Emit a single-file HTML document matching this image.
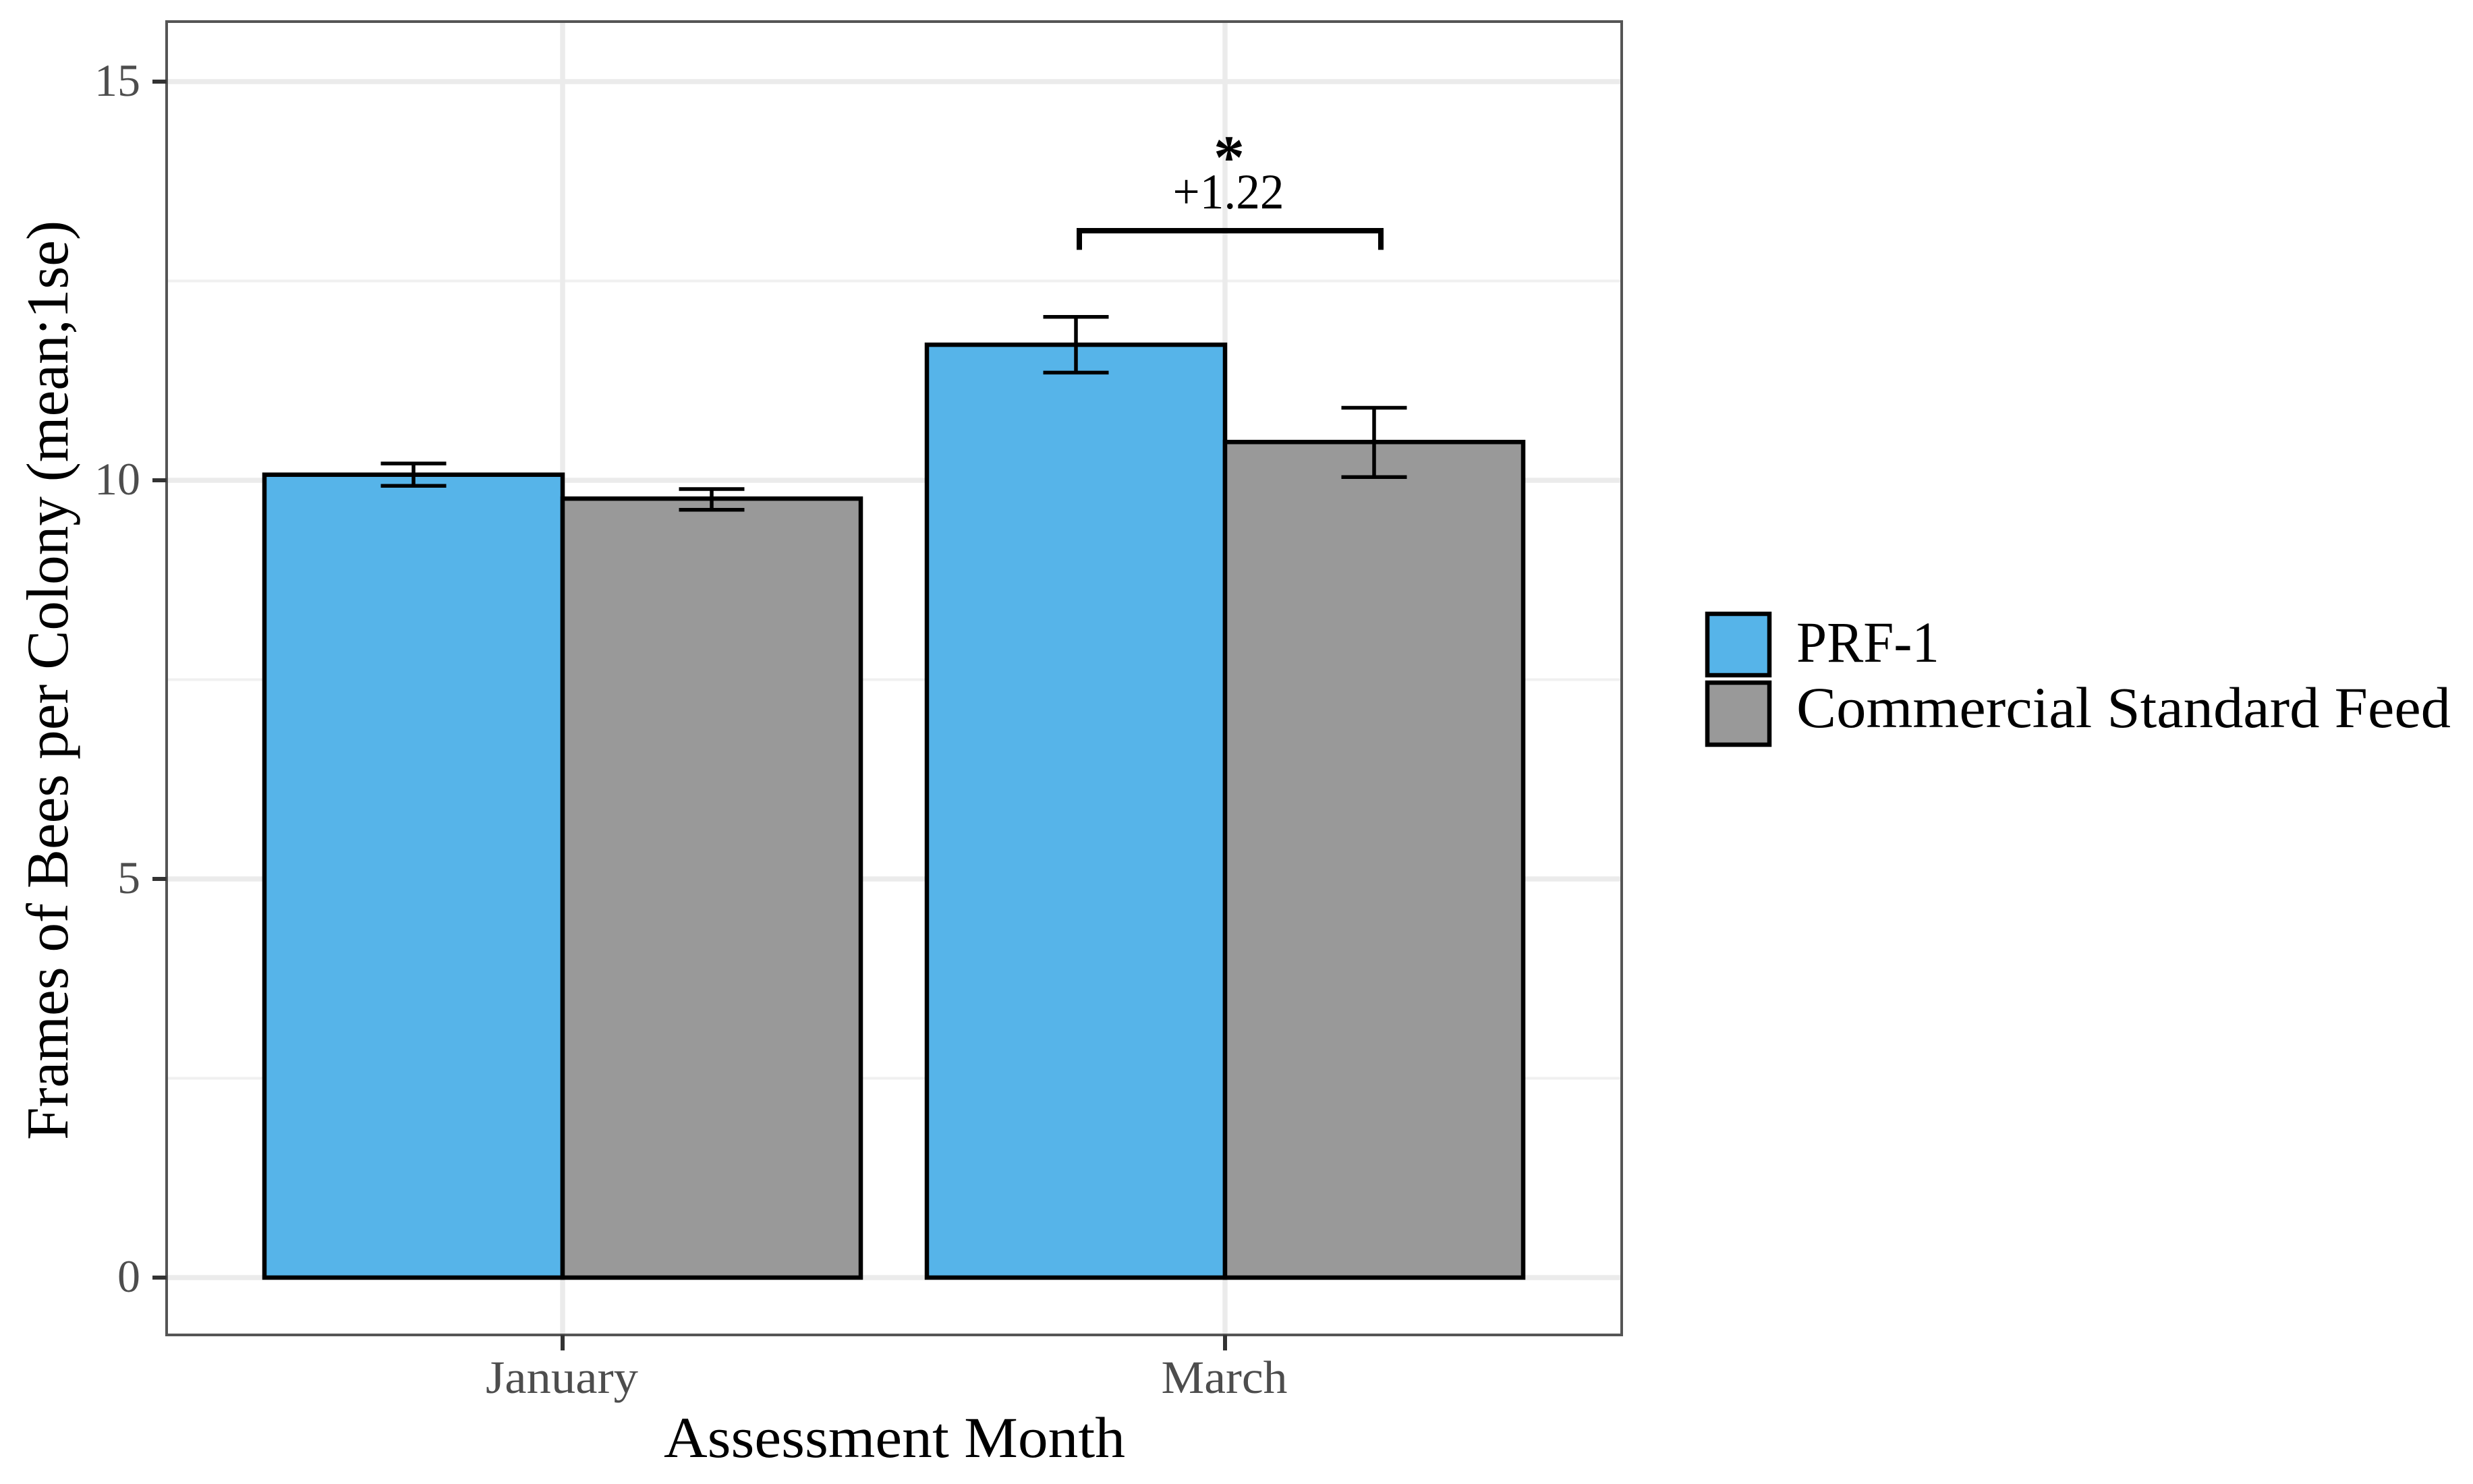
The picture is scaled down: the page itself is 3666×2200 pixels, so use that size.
<!DOCTYPE html>
<html>
<head>
<meta charset="utf-8">
<title>Frames of Bees per Colony</title>
<style>
html,body{margin:0;padding:0;background:#fff;width:3666px;height:2200px;overflow:hidden}
svg{display:block}
text{font-family:"Liberation Serif",serif}
</style>
</head>
<body>
<svg id="chart" width="3666" height="2200" viewBox="0 0 3666 2200" xmlns="http://www.w3.org/2000/svg">
  <rect x="0" y="0" width="3666" height="2200" fill="#fff"/>
  <g id="grid"></g>
  <g id="bars"></g>
  <g id="errors"></g>
  <rect x="247" y="32" width="2157" height="1947" fill="none" stroke="#555" stroke-width="4"/>
  <g id="axes"></g>
  <text transform="translate(100,1690) rotate(-90)" font-size="88" fill="#000" textLength="1363" lengthAdjust="spacingAndGlyphs">Frames of Bees per Colony (mean;1se)</text>
  <text x="984" y="2160" font-size="86" fill="#000" textLength="684" lengthAdjust="spacingAndGlyphs">Assessment Month</text>
  <g id="annotation"></g>
  <g>
    <rect x="2531" y="910" width="92" height="91" fill="#56B4E9" stroke="#000" stroke-width="6.5"/>
    <rect x="2531" y="1012" width="92" height="92" fill="#999999" stroke="#000" stroke-width="6.5"/>
    <text x="2663" y="981" font-size="86" fill="#000" textLength="212" lengthAdjust="spacingAndGlyphs">PRF-1</text>
    <text x="2663" y="1078" font-size="86" fill="#000" textLength="970" lengthAdjust="spacingAndGlyphs">Commercial Standard Feed</text>
  </g>
</svg>
<script>
const categories = ['January', 'March'];
const prfMeans = [10.07, 11.70];
const prfUpper = [10.21, 12.05];
const prfLower = [9.93, 11.35];
const feedMeans = [9.77, 10.48];
const feedUpper = [9.89, 10.91];
const feedLower = [9.63, 10.04];
const yMajorTicks = [0, 5, 10, 15];
const yMinorTicks = [2.5, 7.5, 12.5];
const annotationDelta = '+1.22';
const annotationStar = '*';
const bracketTop = 13.13;
const bracketBottom = 12.89;

const NS = 'http://www.w3.org/2000/svg';
const BLUE = '#56B4E9', GRAY = '#999999';
const xAxis = i => 834 + 982 * i;
const yAxis = v => 1894 - 118.2 * v;
const BAR_W = 442;
const CAP = 48.5;

function mk(tag, attrs, parent, txt) {
  const e = document.createElementNS(NS, tag);
  for (const k in attrs) e.setAttribute(k, attrs[k]);
  if (txt !== undefined) e.textContent = txt;
  parent.appendChild(e);
  return e;
}

const grid = document.getElementById('grid');
const barsG = document.getElementById('bars');
const errG = document.getElementById('errors');
const axes = document.getElementById('axes');
const ann = document.getElementById('annotation');

yMinorTicks.forEach(v => {
  const l = mk('line', {x1: 247, x2: 2404, y1: yAxis(v), y2: yAxis(v), stroke: '#f0f0f0', 'stroke-width': 4}, grid);
  
  
});
yMajorTicks.forEach(v => {
  const l = mk('line', {x1: 247, x2: 2404, y1: yAxis(v), y2: yAxis(v), stroke: '#ebebeb', 'stroke-width': 7.5}, grid);
  
  
  const t = mk('line', {x1: 226, x2: 247, y1: yAxis(v), y2: yAxis(v), stroke: '#333', 'stroke-width': 6}, axes);
  
  
  const lab = mk('text', {x: 208, y: yAxis(v) + 21, 'text-anchor': 'end', 'font-size': 68, fill: '#4d4d4d'}, axes, String(v));
  
  
});
const labelWidths = {January: 226, March: 187};
categories.forEach((c, i) => {
  const x = xAxis(i);
  const g = mk('line', {x1: x, x2: x, y1: 32, y2: 1979, stroke: '#ebebeb', 'stroke-width': 7.5}, grid);
  
  
  const t = mk('line', {x1: x, x2: x, y1: 1979, y2: 2002, stroke: '#333', 'stroke-width': 6}, axes);
  
  
  const lab = mk('text', {x: x - 1, y: 2065, 'text-anchor': 'middle', 'font-size': 69, fill: '#4d4d4d', textLength: labelWidths[c], lengthAdjust: 'spacingAndGlyphs'}, axes, c);
  
  
});

function drawSeries(means, fill, side, name) {
  means.forEach((m, i) => {
    const x0 = side < 0 ? xAxis(i) - BAR_W : xAxis(i);
    const r = mk('rect', {x: x0, y: yAxis(m), width: BAR_W, height: yAxis(0) - yAxis(m), fill: fill, stroke: '#000', 'stroke-width': 6.5}, barsG);
    
    
  });
}
function drawErrors(upper, lower, side, name) {
  upper.forEach((u, i) => {
    const cx = xAxis(i) + side * BAR_W / 2;
    const yu = yAxis(u), yl = yAxis(lower[i]);
    const p = mk('path', {d: `M${cx - CAP} ${yu}H${cx + CAP}M${cx} ${yu}V${yl}M${cx - CAP} ${yl}H${cx + CAP}`, fill: 'none', stroke: '#000', 'stroke-width': 5.5}, errG);
    
    
  });
}
drawSeries(prfMeans, BLUE, -1, 'prf-1');
drawSeries(feedMeans, GRAY, 1, 'commercial-standard-feed');
drawErrors(prfUpper, prfLower, -1, 'prf-1');
drawErrors(feedUpper, feedLower, 1, 'commercial-standard-feed');

const bxL = xAxis(1) - 216, bxR = xAxis(1) + 231;
const br = mk('path', {d: `M${bxL} ${yAxis(bracketBottom)}V${yAxis(bracketTop)}H${bxR}V${yAxis(bracketBottom)}`, fill: 'none', stroke: '#000', 'stroke-width': 8}, ann);


const dl = mk('text', {x: 1821, y: 309, 'text-anchor': 'middle', 'font-size': 74, fill: '#000', textLength: 165, lengthAdjust: 'spacingAndGlyphs'}, ann, annotationDelta);


const st = mk('text', {x: 1822, y: 264, 'text-anchor': 'middle', 'font-size': 92, 'font-weight': 'bold', fill: '#000'}, ann, annotationStar);


</script>
</body>
</html>
